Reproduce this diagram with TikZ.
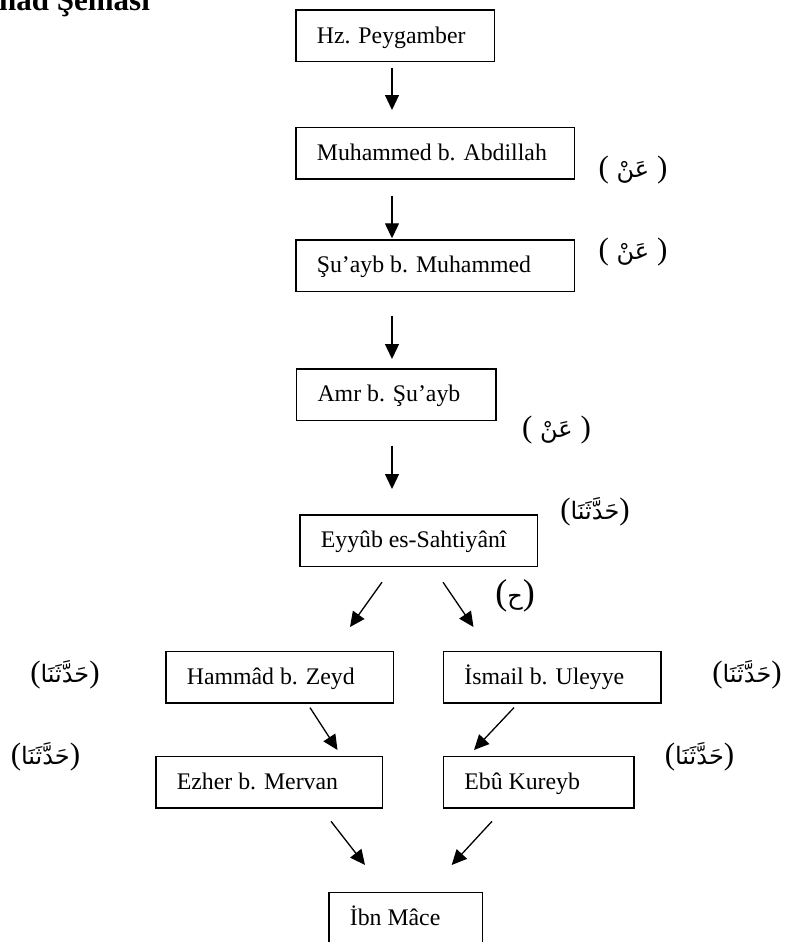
\documentclass[tikz,border=0pt]{standalone}
\usepackage{fontspec}
\setmainfont{Liberation Serif}
\newfontfamily\arabicfont[Script=Arabic]{DejaVu Sans}
\TeXXeTstate=1
\usetikzlibrary{arrows.meta,calc}

\newcommand{\bt}[2]{\makebox[#1pt][l]{\hspace{21pt}#2}}
\newcommand{\artxt}[1]{{\arabicfont\fontsize{24}{30}\selectfont\beginR #1\endR}}

\tikzset{
  pbox/.style={draw, line width=1.7pt, inner sep=0pt, text height=33pt, text depth=18.5pt,
               anchor=north west, font=\fontsize{23.8}{28}\selectfont},
  arr/.style={line width=1.3pt, -{Triangle[length=15pt,width=14pt]}},
  lab/.style={inner sep=0pt, font=\fontsize{31}{36}\selectfont},
  biglab/.style={inner sep=0pt, font=\fontsize{36}{40}\selectfont},
}

\begin{document}
\begin{tikzpicture}[x=1pt,y=-1pt]
\fill[white] (0,0) rectangle (786,942);
\useasboundingbox (0,0) rectangle (786,942);

\node[anchor=base west, inner sep=0pt, font=\bfseries\fontsize{31}{36}\selectfont] (title) at (-1,11) {nad Şeması};

\node[pbox] (hz)  at (295,9.3)     {\bt{198.5}{Hz. Peygamber}};
\node[pbox] (mu)  at (295,126.7)   {\bt{278.5}{Muhammed b. Abdillah}};
\node[pbox] (su)  at (295,239)     {\bt{278.5}{Şu’ayb b. Muhammed}};
\node[pbox] (amr) at (295.7,368)   {\bt{199.3}{Amr b. Şu’ayb}};
\node[pbox] (ey)  at (299,514)     {\bt{237.7}{Eyyûb es-Sahtiyânî}};
\node[pbox] (ha)  at (165,650.7)   {\bt{227.5}{Hammâd b. Zeyd}};
\node[pbox] (is)  at (442.5,650.7) {\bt{217.5}{İsmail b. Uleyye}};
\node[pbox] (ez)  at (155,755.7)   {\bt{226.5}{Ezher b. Mervan}};
\node[pbox] (eb)  at (442.5,755.7) {\bt{190.5}{Ebû Kureyb}};
\node[pbox] (ibn) at (328,891.7)   {\bt{153.5}{İbn Mâce}};

\node[lab] (l1) at (633,170)   {( \artxt{عَنْ} )};
\node[lab] (l2) at (633,252)   {( \artxt{عَنْ} )};
\node[lab] (l3) at (556.5,430) {( \artxt{عَنْ} )};
\node[lab] (l4) at (595,512)   {(\artxt{حَدَّثَنَا})};
\node[biglab] (l5) at (515,596) {(\artxt{ح})};
\node[lab] (l6) at (65,675)    {(\artxt{حَدَّثَنَا})};
\node[lab] (l7) at (747,675)   {(\artxt{حَدَّثَنَا})};
\node[lab] (l8) at (45.5,757)  {(\artxt{حَدَّثَنَا})};
\node[lab] (l9) at (699.5,757) {(\artxt{حَدَّثَنَا})};

\draw[arr] ($(hz.south west)+(97,5.3)$)   -- ($(mu.north west)+(97,-16.7)$);
\draw[arr] ($(mu.south west)+(97,15.7)$)  -- ($(su.north west)+(97,-0.7)$);
\draw[arr] ($(su.south west)+(97,23.3)$)  -- ($(amr.north west)+(96.3,-9)$);
\draw[arr] ($(amr.south west)+(96.3,24.3)$) -- ($(ey.north west)+(93,-25)$);
\draw[arr] ($(ey.south west)+(83,15)$)    -- ($(ha.north west)+(185,-23.7)$);
\draw[arr] ($(ey.south west)+(144,15)$)   -- ($(is.north west)+(31,-23.7)$);
\draw[arr] ($(ha.south west)+(145,3.7)$)  -- ($(ez.north west)+(182.5,-5.7)$);
\draw[arr] ($(is.south west)+(71.5,3.7)$) -- ($(eb.north west)+(31.5,-5.7)$);
\draw[arr] ($(ez.south west)+(176,12.4)$) -- ($(ibn.north west)+(37,-26.7)$);
\draw[arr] ($(eb.south west)+(49.5,12.4)$) -- ($(ibn.north west)+(123.7,-26.7)$);
\end{tikzpicture}
\end{document}
